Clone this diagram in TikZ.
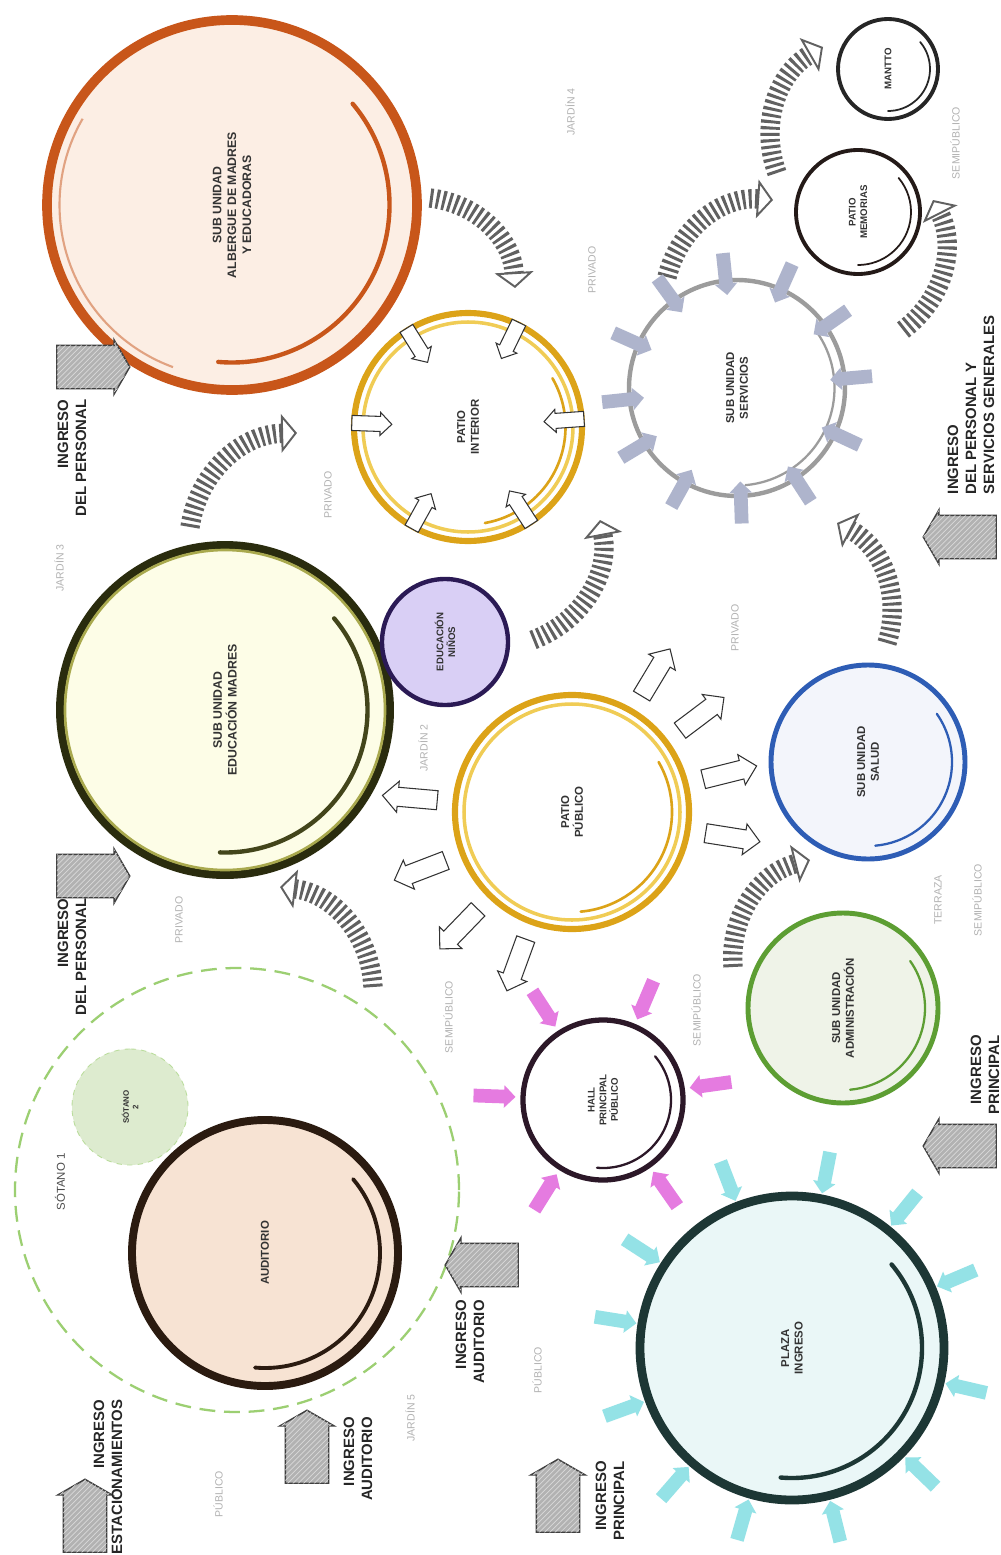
\documentclass[tikz,border=0pt]{standalone}
\usepackage{fontspec}
\setmainfont{Liberation Sans}
\usepackage{xcolor}
\usetikzlibrary{arrows.meta,positioning,shapes.arrows,patterns,calc}

\definecolor{albergueC}{HTML}{C8561A}
\definecolor{albergueF}{HTML}{FCEEE4}
\definecolor{goldC}{HTML}{DCA318}
\definecolor{goldL}{HTML}{F0CC55}
\definecolor{servC}{HTML}{9C9C9C}
\definecolor{servA}{HTML}{AEB4CC}
\definecolor{darkC}{HTML}{241A18}
\definecolor{madresC}{HTML}{2A2C0E}
\definecolor{madresL}{HTML}{A9A94E}
\definecolor{madresF}{HTML}{FDFDE7}
\definecolor{ninosC}{HTML}{2B1A55}
\definecolor{ninosF}{HTML}{D9CFF5}
\definecolor{saludC}{HTML}{2E5DB5}
\definecolor{saludF}{HTML}{F3F5FB}
\definecolor{adminC}{HTML}{5D9E33}
\definecolor{adminF}{HTML}{EFF3E8}
\definecolor{hallC}{HTML}{2C1828}
\definecolor{hallA}{HTML}{E57BE0}
\definecolor{plazaC}{HTML}{1D3735}
\definecolor{plazaF}{HTML}{EAF7F7}
\definecolor{plazaA}{HTML}{94E2E6}
\definecolor{sotanoC}{HTML}{9CCF72}
\definecolor{sotanoF}{HTML}{DDEBCF}
\definecolor{audC}{HTML}{2B1B10}
\definecolor{audF}{HTML}{F7E3D3}

\begin{document}
\begin{tikzpicture}[
  x=0.2mm, y=-0.2mm,
  bubble/.style={circle, inner sep=0pt, align=center, rotate=90, text=black!80,
                 font=\bfseries\fontsize{6.5}{7.8}\selectfont},
  small/.style={font=\bfseries\fontsize{5.5}{6.6}\selectfont},
  ingreso/.style={single arrow, draw=black!75, line width=0.8pt, fill=gray!60,
                  postaction={pattern=north east lines, pattern color=white!70!gray},
                  inner sep=4.2mm, minimum height=14.6mm,
                  single arrow head extend=1.1mm, single arrow tip angle=120},
  ingtext/.style={rotate=90, align=right, text=black!85,
                  font=\bfseries\fontsize{8.5}{10.2}\selectfont},
  zone/.style={rotate=90, text=black!30, font=\fontsize{6}{7}\selectfont},
  hatch/.style={line width=11pt, draw=black!62, dash pattern=on 1.7pt off 1.9pt,
                -{Triangle[open, length=9pt, width=22pt, line width=1.1pt]}},
  openarr/.style={single arrow, draw=black!80, fill=white, line width=0.6pt},
  fillarr/.style={single arrow, inner sep=1.3mm, minimum height=8.4mm,
                  single arrow head extend=0.9mm}
]
\fill[white] (0,0) rectangle (1000,1555);
\useasboundingbox (0,0) rectangle (1000,1555);

% sotano zone
\node[circle, draw=sotanoC, dash pattern=on 9pt off 5pt, line width=1.3pt,
      minimum size=88.8mm] (sotano1) at (237,1190) {};
\node[rotate=90, text=black!70, font=\fontsize{6.5}{7.8}\selectfont] (sotanolbl) at (60,1182) {SÓTANO 1};
\node[bubble, minimum size=23.2mm, fill=sotanoF, draw=sotanoC!70, dashed, line width=0.5pt,
      font=\bfseries\fontsize{4.5}{5.4}\selectfont] (sotano2) at (130,1107) {SÓTANO\\2};

% bubbles
\node[bubble, minimum size=74mm, draw=albergueC, fill=albergueF, line width=5.5pt,
      font=\bfseries\fontsize{7}{8.4}\selectfont] (albergue) at (232,205)
      {SUB UNIDAD\\ALBERGUE DE MADRES\\Y EDUCADORAS};
\draw[albergueC, line width=2.5pt, line cap=round] (albergue.center) ++(40:31.5mm)
      arc[start angle=40, end angle=-95, radius=31.5mm];
\draw[albergueC!55, line width=1.2pt] (albergue.center) ++(150:34.5mm)
      arc[start angle=150, end angle=250, radius=34.5mm];

\node[bubble, minimum size=45.6mm, draw=goldC, fill=white, line width=3.5pt] (patioint)
      at (468,427) {PATIO\\INTERIOR};
\draw[goldL, line width=2pt] (patioint) circle[radius=21mm];
\draw[goldC, line width=1.5pt, line cap=round] (patioint.center) ++(30:19.5mm)
      arc[start angle=30, end angle=-80, radius=19.5mm];

\node[bubble, minimum size=43.2mm, draw=servC, fill=white, line width=2.5pt] (servicios)
      at (737,388) {SUB UNIDAD\\SERVICIOS};
\draw[servC, line width=1.3pt, line cap=round] (servicios.center) ++(35:19.5mm)
      arc[start angle=35, end angle=-85, radius=19.5mm];

\node[bubble, small, minimum size=24.8mm, draw=darkC, fill=white, line width=2.2pt] (memorias)
      at (858,212) {PATIO\\MEMORIAS};
\draw[darkC, line width=1pt, line cap=round] (memorias.center) ++(40:10.6mm)
      arc[start angle=40, end angle=-90, radius=10.6mm];

\node[bubble, small, minimum size=20mm, draw=black!85, fill=white, line width=2.2pt] (mantto)
      at (888,69) {MANTTO};
\draw[black!85, line width=1pt, line cap=round] (mantto.center) ++(40:8.4mm)
      arc[start angle=40, end angle=-90, radius=8.4mm];

\node[bubble, minimum size=66mm, draw=madresC, fill=madresF, line width=4.5pt,
      font=\bfseries\fontsize{7}{8.4}\selectfont] (madres) at (225,710)
      {SUB UNIDAD\\EDUCACIÓN MADRES};
\draw[madresL, line width=1.5pt] (madres) circle[radius=32mm];
\draw[madresC!80!madresL, line width=2.5pt, line cap=round] (madres.center) ++(40:28.5mm)
      arc[start angle=40, end angle=-92, radius=28.5mm];

\node[bubble, small, minimum size=25.2mm, draw=ninosC, fill=ninosF, line width=2.5pt] (ninos)
      at (445,642) {EDUCACIÓN\\NIÑOS};

\node[bubble, minimum size=46.8mm, draw=goldC, fill=white, line width=3.5pt] (patiopub)
      at (572,812) {PATIO\\PÚBLICO};
\draw[goldL, line width=2pt] (patiopub) circle[radius=21.6mm];
\draw[goldC, line width=1.5pt, line cap=round] (patiopub.center) ++(30:20mm)
      arc[start angle=30, end angle=-85, radius=20mm];

\node[bubble, minimum size=38.8mm, draw=saludC, fill=saludF, line width=2.8pt] (salud)
      at (868,762) {SUB UNIDAD\\SALUD};
\draw[saludC, line width=1.3pt, line cap=round] (salud.center) ++(35:16.8mm)
      arc[start angle=35, end angle=-85, radius=16.8mm];

\node[bubble, minimum size=38mm, draw=adminC, fill=adminF, line width=2.8pt] (admin)
      at (843,1008) {SUB UNIDAD\\ADMINISTRACIÓN};
\draw[adminC, line width=1.3pt, line cap=round] (admin.center) ++(35:16.4mm)
      arc[start angle=35, end angle=-85, radius=16.4mm];

\node[bubble, small, minimum size=32mm, draw=hallC, fill=white, line width=3pt] (hall)
      at (603,1100) {HALL\\PRINCIPAL\\PÚBLICO};
\draw[hallC, line width=1.3pt, line cap=round] (hall.center) ++(40:13.6mm)
      arc[start angle=40, end angle=-95, radius=13.6mm];

\node[bubble, minimum size=60.8mm, draw=plazaC, fill=plazaF, line width=5pt] (plaza)
      at (792,1348) {PLAZA\\INGRESO};
\draw[plazaC, line width=2.5pt, line cap=round] (plaza.center) ++(40:26mm)
      arc[start angle=40, end angle=-95, radius=26mm];

\node[bubble, minimum size=53.2mm, draw=audC, fill=audF, line width=4.5pt] (auditorio)
      at (265,1253) {AUDITORIO};
\draw[audC, line width=2.2pt, line cap=round] (auditorio.center) ++(40:23mm)
      arc[start angle=40, end angle=-95, radius=23mm];

% hatched flows
\coordinate (h1s) at (430,198); \coordinate (h1e) at (515,288);
\coordinate (h2s) at (190,527); \coordinate (h2e) at (297,433);
\coordinate (h3s) at (533,640); \coordinate (h3e) at (600,520);
\coordinate (h4s) at (667,277); \coordinate (h4e) at (773,200);
\coordinate (h5s) at (777,173); \coordinate (h5e) at (823,47);
\coordinate (h6s) at (903,330); \coordinate (h6e) at (933,200);
\coordinate (h7s) at (887,643); \coordinate (h7e) at (837,523);
\coordinate (h8s) at (733,967); \coordinate (h8e) at (810,860);
\coordinate (h9s) at (373,987); \coordinate (h9e) at (280,887);
\draw[hatch] (h1s) to[bend left=40] (h1e);
\draw[hatch] (h2s) to[bend left=40] (h2e);
\draw[hatch] (h3s) to[bend right=40] (h3e);
\draw[hatch] (h4s) to[bend left=40] (h4e);
\draw[hatch] (h5s) to[bend left=40] (h5e);
\draw[hatch] (h6s) to[bend right=40] (h6e);
\draw[hatch] (h7s) to[bend right=40] (h7e);
\draw[hatch] (h8s) to[bend left=40] (h8e);
\draw[hatch] (h9s) to[bend right=40] (h9e);

% arrows round the bubbles
\foreach \a in {4,64,122,178,241,303}
  \node[openarr, inner sep=1.4mm, minimum height=8mm, single arrow head extend=0.8mm,
        rotate=\a+180] (pi-\a) at ($(patioint)+(\a:20mm)$) {};
\foreach \a in {59,37,14,-9,175,201,226,250}
  \node[openarr, inner sep=1.8mm, minimum height=11mm, single arrow head extend=1.2mm,
        rotate=\a] (pp-\a) at ($(patiopub)+(\a:31.6mm)$) {};
\foreach \a in {8,67,123,178,238,305}
  \node[fillarr, fill=hallA, rotate=\a+180] (ha-\a) at ($(hall)+(\a:22.4mm)$) {};
\foreach \a in {111,79,51,23,-13,-44,-76,-106,-131,-160,171,147}
  \node[fillarr, fill=plazaA, rotate=\a+180] (pl-\a) at ($(plaza)+(\a:36.4mm)$) {};
\foreach \a in {5,35,66,96,126,156,186,-25,-57,-88,-119,-149}
  \node[fillarr, fill=servA, rotate=\a+180] (se-\a) at ($(servicios)+(\a:23.6mm)$) {};

% ingresos
\node[ingreso] (ing1) at (87,367) {};
\node[ingtext] (ing1t) at (72,458) {INGRESO\\DEL PERSONAL};
\node[ingreso] (ing2) at (87,876) {};
\node[ingtext] (ing2t) at (72,957) {INGRESO\\DEL PERSONAL};
\node[ingreso, rotate=90] (ing3) at (85,1522) {};
\node[ingtext] (ing3t) at (108,1477) {INGRESO\\ESTACIONAMIENTOS};
\node[ingreso, rotate=90] (ing4) at (307,1453) {};
\node[ingtext] (ing4t) at (358,1459) {INGRESO\\AUDITORIO};
\node[ingreso, rotate=180] (ing5) at (488,1265) {};
\node[ingtext] (ing5t) at (470,1342) {INGRESO\\AUDITORIO};
\node[ingreso, rotate=90] (ing6) at (558,1502) {};
\node[ingtext] (ing6t) at (610,1501) {INGRESO\\PRINCIPAL};
\node[ingreso, rotate=180] (ing7) at (966,1146) {};
\node[ingtext] (ing7t) at (985,1075) {INGRESO\\PRINCIPAL};
\node[ingreso, rotate=180] (ing8) at (966,537) {};
\node[ingtext, align=left] (ing8t) at (971,405) {INGRESO\\DEL PERSONAL Y\\SERVICIOS GENERALES};

% zones
\node[zone] (z1) at (570,112) {JARDÍN 4};
\node[zone] (z2) at (592,270) {PRIVADO};
\node[zone] (z3) at (328,495) {PRIVADO};
\node[zone] (z4) at (59,568) {JARDÍN 3};
\node[zone] (z5) at (423,748) {JARDÍN 2};
\node[zone] (z6) at (179,920) {PRIVADO};
\node[zone] (z7) at (735,628) {PRIVADO};
\node[zone] (z8) at (448,1017) {SEMIPÚBLICO};
\node[zone] (z9) at (696,1010) {SEMIPÚBLICO};
\node[zone] (z10) at (938,900) {TERRAZA};
\node[zone] (z11) at (977,900) {SEMIPÚBLICO};
\node[zone] (z12) at (955,143) {SEMIPÚBLICO};
\node[zone] (z13) at (410,1418) {JARDÍN 5};
\node[zone] (z14) at (218,1494) {PÚBLICO};
\node[zone] (z15) at (537,1370) {PÚBLICO};
\end{tikzpicture}
\end{document}
